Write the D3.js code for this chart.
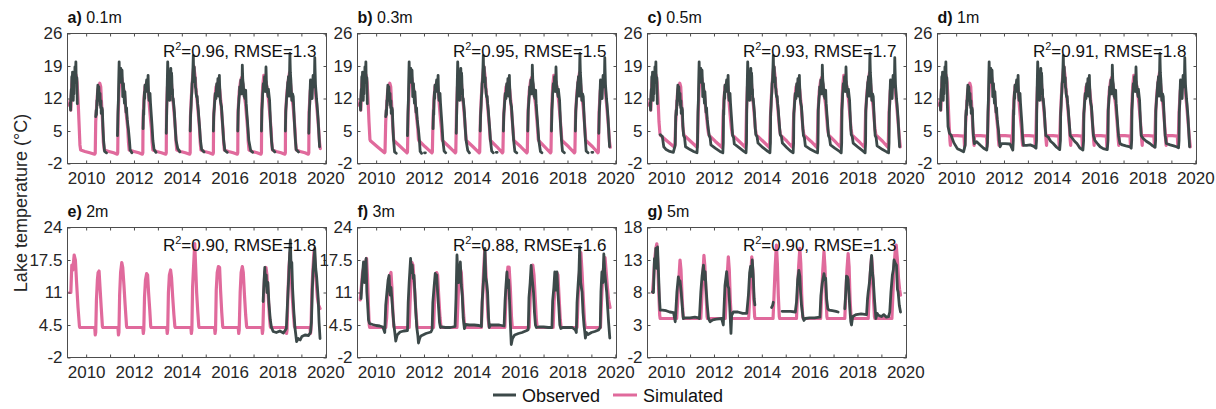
<!DOCTYPE html>
<html>
<head>
<meta charset="utf-8">
<script src="https://cdn.jsdelivr.net/npm/d3@7"></script>
<style>
  body { margin: 0; background: #fff; }
  svg text { font-family: "Liberation Sans", Arial, Helvetica, sans-serif; }
</style>
</head>
<body>
<svg id="chart" width="1216" height="409"></svg>
<script>
// ---- Observed open-water season, near-surface loggers (0.1–1 m), decimal year / °C ----
const obsCore = [
  [[2009.33,11.0],[2009.35,9.5],[2009.36,12.5],[2009.38,14.0],[2009.39,12.0],[2009.40,16.7],[2009.42,15.0],[2009.43,17.7],[2009.45,13.5],[2009.46,11.6],[2009.48,14.5],[2009.49,13.0],[2009.50,17.0],[2009.52,15.5],[2009.53,18.8],[2009.55,16.0],[2009.57,19.9],[2009.58,17.0],[2009.60,15.2],[2009.61,16.5],[2009.63,10.9]],
  [[2010.40,8.1],[2010.42,9.5],[2010.43,8.5],[2010.45,11.6],[2010.46,10.5],[2010.47,13.0],[2010.49,14.9],[2010.50,13.0],[2010.51,12.5],[2010.53,14.5],[2010.55,12.5],[2010.56,11.6],[2010.58,13.1],[2010.59,11.0],[2010.61,10.0],[2010.62,11.5],[2010.63,8.8],[2010.65,9.0],[2010.66,10.0],[2010.68,9.5],[2010.70,6.0]],
  [[2011.33,9.0],[2011.35,12.0],[2011.36,15.5],[2011.38,19.9],[2011.39,17.5],[2011.40,16.0],[2011.42,17.0],[2011.43,15.5],[2011.45,18.5],[2011.47,16.5],[2011.48,17.5],[2011.50,18.1],[2011.52,15.0],[2011.53,12.4],[2011.55,14.0],[2011.56,15.2],[2011.58,13.0],[2011.60,11.0],[2011.62,13.5],[2011.63,12.4],[2011.65,10.5],[2011.67,9.0],[2011.69,10.0],[2011.70,8.8],[2011.72,7.5],[2011.74,6.5],[2011.77,5.2]],
  [[2012.40,9.5],[2012.41,8.5],[2012.42,11.6],[2012.44,13.5],[2012.45,12.0],[2012.46,14.9],[2012.48,14.0],[2012.50,13.5],[2012.51,15.0],[2012.53,16.0],[2012.55,14.0],[2012.56,15.0],[2012.58,15.5],[2012.59,17.0],[2012.61,13.0],[2012.63,11.6],[2012.65,12.5],[2012.67,13.1],[2012.69,11.0],[2012.71,9.5],[2012.73,8.0],[2012.75,6.5]],
  [[2013.37,9.5],[2013.38,12.0],[2013.39,15.0],[2013.41,19.9],[2013.42,18.0],[2013.43,16.0],[2013.44,17.0],[2013.45,14.5],[2013.47,13.0],[2013.49,11.6],[2013.50,13.5],[2013.52,15.0],[2013.54,18.5],[2013.55,16.5],[2013.57,17.5],[2013.58,16.7],[2013.60,13.0],[2013.61,14.0],[2013.62,11.6],[2013.64,12.0],[2013.67,10.2],[2013.69,9.0],[2013.72,6.0]],
  [[2014.37,8.8],[2014.39,10.5],[2014.40,12.0],[2014.42,13.5],[2014.43,15.2],[2014.45,16.0],[2014.46,17.5],[2014.48,21.3],[2014.49,19.0],[2014.50,17.0],[2014.52,18.8],[2014.53,16.5],[2014.55,15.5],[2014.56,16.5],[2014.57,14.5],[2014.59,14.0],[2014.60,13.0],[2014.62,12.4],[2014.64,12.5],[2014.66,11.0],[2014.69,9.5],[2014.71,8.0],[2014.74,6.0]],
  [[2015.34,8.8],[2015.36,10.0],[2015.37,11.0],[2015.39,12.5],[2015.40,13.1],[2015.42,12.5],[2015.43,12.0],[2015.45,14.5],[2015.46,15.2],[2015.48,14.5],[2015.49,14.0],[2015.51,16.3],[2015.52,14.5],[2015.54,12.5],[2015.55,14.0],[2015.57,17.0],[2015.58,15.0],[2015.59,14.0],[2015.61,11.6],[2015.63,11.0],[2015.66,10.2],[2015.68,8.5],[2015.71,6.0]],
  [[2016.36,9.5],[2016.38,11.0],[2016.39,12.0],[2016.41,13.0],[2016.42,14.5],[2016.44,14.0],[2016.45,13.0],[2016.47,16.0],[2016.49,14.5],[2016.50,13.0],[2016.52,15.5],[2016.53,19.2],[2016.54,17.5],[2016.55,16.0],[2016.57,15.2],[2016.59,13.5],[2016.61,12.4],[2016.63,13.0],[2016.64,12.0],[2016.67,13.8],[2016.69,11.0],[2016.72,8.8],[2016.74,7.5],[2016.76,6.0]],
  [[2017.35,9.5],[2017.37,11.5],[2017.38,13.0],[2017.40,14.0],[2017.41,15.2],[2017.43,14.5],[2017.44,14.0],[2017.46,16.7],[2017.48,15.0],[2017.49,13.5],[2017.51,16.0],[2017.52,18.8],[2017.53,17.0],[2017.54,15.0],[2017.56,14.5],[2017.58,13.5],[2017.61,12.4],[2017.62,14.0],[2017.64,13.0],[2017.67,11.6],[2017.69,9.0],[2017.71,6.5]],
  [[2018.35,9.5],[2018.37,11.0],[2018.38,12.0],[2018.40,13.0],[2018.41,13.8],[2018.43,15.5],[2018.44,15.0],[2018.46,16.7],[2018.48,14.0],[2018.49,12.5],[2018.50,16.0],[2018.52,21.7],[2018.53,19.5],[2018.54,17.5],[2018.56,16.0],[2018.58,13.5],[2018.60,11.6],[2018.62,12.5],[2018.63,13.0],[2018.66,12.4],[2018.68,10.0],[2018.71,6.5]],
  [[2019.33,9.0],[2019.35,11.0],[2019.36,13.0],[2019.38,16.0],[2019.40,15.0],[2019.42,15.5],[2019.44,13.5],[2019.45,12.0],[2019.47,15.0],[2019.49,17.0],[2019.51,15.5],[2019.53,14.5],[2019.55,17.5],[2019.56,20.8],[2019.57,18.5],[2019.59,15.0],[2019.61,13.5],[2019.63,12.0],[2019.65,11.0],[2019.68,9.0],[2019.70,7.5],[2019.72,5.5]]
];

// ---- Simulated open-water season, upper 1 m ----
const simCore = [
  [[2009.30,10.5],[2009.33,11.5],[2009.36,9.5],[2009.40,15.0],[2009.44,17.0],[2009.48,15.5],[2009.53,17.5],[2009.58,17.0],[2009.62,15.5],[2009.66,12.0],[2009.70,7.0]],
  [[2010.40,7.0],[2010.44,10.5],[2010.48,13.5],[2010.52,14.5],[2010.57,15.3],[2010.61,14.5],[2010.65,10.5],[2010.69,6.5]],
  [[2011.34,8.5],[2011.37,13.0],[2011.41,16.5],[2011.45,17.5],[2011.50,16.0],[2011.55,14.5],[2011.60,13.0],[2011.65,10.0],[2011.70,7.5],[2011.74,5.5]],
  [[2012.38,8.0],[2012.42,12.0],[2012.46,14.5],[2012.50,15.0],[2012.55,15.5],[2012.60,13.5],[2012.65,10.0],[2012.70,7.0],[2012.73,5.5]],
  [[2013.36,9.5],[2013.40,14.5],[2013.45,16.0],[2013.50,15.0],[2013.55,16.5],[2013.60,13.0],[2013.65,10.5],[2013.70,7.5],[2013.73,5.5]],
  [[2014.36,8.0],[2014.40,12.5],[2014.45,16.5],[2014.50,19.0],[2014.55,17.0],[2014.60,13.5],[2014.65,11.0],[2014.70,8.0],[2014.74,5.5]],
  [[2015.33,8.0],[2015.38,12.0],[2015.43,14.5],[2015.48,15.0],[2015.53,15.5],[2015.58,14.0],[2015.63,11.5],[2015.68,8.0],[2015.72,5.5]],
  [[2016.35,9.0],[2016.40,13.5],[2016.45,15.5],[2016.50,16.5],[2016.55,15.0],[2016.60,13.0],[2016.66,11.0],[2016.71,8.0],[2016.75,5.5]],
  [[2017.34,9.5],[2017.38,14.5],[2017.43,17.0],[2017.48,16.0],[2017.53,15.5],[2017.58,13.5],[2017.64,11.0],[2017.69,8.0],[2017.73,5.5]],
  [[2018.34,9.0],[2018.39,13.0],[2018.44,15.5],[2018.50,17.5],[2018.55,15.0],[2018.60,12.5],[2018.65,10.5],[2018.70,7.5],[2018.73,5.5]],
  [[2019.32,9.0],[2019.37,13.5],[2019.42,15.5],[2019.48,16.0],[2019.53,15.5],[2019.58,14.0],[2019.63,11.0],[2019.68,8.0],[2019.72,5.5]]
];

// ---- Cold-season pieces for each upper depth (null = no record) ----
const simWinter01 = [
  [[2009.74,2.0],[2009.77,0.9],[2009.95,0.6],[2010.15,0.3],[2010.35,0.0],[2010.38,0.2]],
  [[2010.72,2.5],[2010.76,0.9],[2010.95,0.6],[2011.15,0.3],[2011.30,0.0],[2011.32,0.3]],
  [[2011.77,2.5],[2011.80,0.9],[2012.00,0.6],[2012.20,0.3],[2012.35,0.0],[2012.37,0.3]],
  [[2012.76,2.5],[2012.79,0.9],[2012.95,0.6],[2013.15,0.3],[2013.33,0.0],[2013.35,0.3]],
  [[2013.76,2.5],[2013.79,0.9],[2013.95,0.6],[2014.15,0.3],[2014.33,0.0],[2014.35,0.3]],
  [[2014.77,2.5],[2014.80,0.9],[2014.95,0.6],[2015.15,0.3],[2015.30,0.0],[2015.32,0.3]],
  [[2015.75,2.5],[2015.78,0.9],[2015.95,0.6],[2016.15,0.3],[2016.32,0.0],[2016.34,0.3]],
  [[2016.78,2.5],[2016.81,0.9],[2016.95,0.6],[2017.15,0.3],[2017.31,0.0],[2017.33,0.3]],
  [[2017.76,2.5],[2017.79,0.9],[2017.95,0.6],[2018.15,0.3],[2018.31,0.0],[2018.33,0.3]],
  [[2018.76,2.5],[2018.79,0.9],[2018.95,0.6],[2019.15,0.3],[2019.29,0.0],[2019.31,0.3]],
  [[2019.76,2.5],[2019.79,1.2]]
];
const obsWinter01 = [
  [null],
  [[2010.73,3.0],[2010.77,0.6],[2010.85,0.3],null,[2011.31,4.0]],
  [[2011.81,3.0],[2011.84,0.9],[2011.91,0.3],null,[2012.38,5.5]],
  [[2012.79,3.0],[2012.84,1.0],[2012.92,0.4],null,[2013.35,4.5]],
  [[2013.76,3.0],[2013.83,1.2],[2013.92,0.5],null,[2014.35,5.0]],
  [[2014.78,3.0],[2014.83,1.0],[2014.93,0.5],null,[2015.32,5.0]],
  [[2015.75,3.0],[2015.80,0.8],[2015.90,0.4],null,[2016.34,5.0]],
  [[2016.80,3.0],[2016.88,0.8],[2016.96,0.4],null,[2017.33,5.0]],
  [[2017.75,3.0],[2017.79,1.0],[2017.89,0.5],null,[2018.33,5.0]],
  [[2018.75,3.0],[2018.78,1.0],[2018.88,0.5],null,[2019.31,4.5]],
  [[2019.76,1.6]]
];

const simWinter03 = [
  [[2009.74,3.2],[2009.76,2.9],[2010.05,1.6],[2010.35,0.3],[2010.37,0.5]],
  [[2010.73,3.2],[2010.75,2.9],[2011.02,1.6],[2011.29,0.3],[2011.31,0.5]],
  [[2011.77,3.2],[2011.79,2.9],[2012.05,1.6],[2012.33,0.3],[2012.35,0.5]],
  [[2012.76,3.2],[2012.78,2.9],[2013.05,1.6],[2013.31,0.3],[2013.33,0.5]],
  [[2013.76,3.2],[2013.78,2.9],[2014.05,1.6],[2014.31,0.3],[2014.33,0.5]],
  [[2014.77,3.2],[2014.79,2.9],[2015.05,1.6],[2015.28,0.3],[2015.30,0.5]],
  [[2015.75,3.2],[2015.77,2.9],[2016.05,1.6],[2016.30,0.3],[2016.32,0.5]],
  [[2016.78,3.2],[2016.80,2.9],[2017.05,1.6],[2017.29,0.3],[2017.31,0.5]],
  [[2017.76,3.2],[2017.78,2.9],[2018.05,1.6],[2018.29,0.3],[2018.31,0.5]],
  [[2018.76,3.2],[2018.78,2.9],[2019.05,1.6],[2019.27,0.3],[2019.29,0.5]],
  [[2019.76,2.5],[2019.79,1.5]]
];
const obsWinter03 = [
  [null],
  [[2010.73,3.0],[2010.77,0.5],[2010.84,0.2],null,[2011.31,4.0]],
  [[2011.81,3.0],[2011.84,0.6],[2011.90,0.2],null,[2012.02,0.3],[2012.06,0.3],null,[2012.38,5.5]],
  [[2012.79,3.0],[2012.84,0.7],[2012.91,0.3],null,[2013.35,4.5]],
  [[2013.76,3.0],[2013.83,0.8],[2013.90,0.3],null,[2014.35,5.0]],
  [[2014.78,3.0],[2014.83,0.7],[2014.90,0.3],null,[2015.02,0.4],[2015.06,0.4],null,[2015.32,5.0]],
  [[2015.75,3.0],[2015.80,0.6],[2015.88,0.3],null,[2016.34,5.0]],
  [[2016.80,3.0],[2016.87,0.6],[2016.93,0.3],null,[2017.33,5.0]],
  [[2017.75,3.0],[2017.79,0.7],[2017.87,0.3],null,[2018.33,5.0]],
  [[2018.75,3.0],[2018.78,0.7],[2018.86,0.3],null,[2019.02,0.4],[2019.06,0.4],null,[2019.31,4.5]],
  [[2019.76,1.6]]
];

const simWinter05 = [
  [[2009.74,4.5],[2009.76,4.1],[2010.05,2.8],[2010.35,1.5],[2010.37,2.5]],
  [[2010.73,4.5],[2010.75,4.1],[2011.02,2.8],[2011.29,1.5],[2011.31,2.5]],
  [[2011.77,4.5],[2011.79,4.1],[2012.05,2.8],[2012.33,1.5],[2012.35,2.5]],
  [[2012.76,4.5],[2012.78,4.1],[2013.05,2.8],[2013.31,1.5],[2013.33,2.5]],
  [[2013.76,4.5],[2013.78,4.1],[2014.05,2.8],[2014.31,1.5],[2014.33,2.5]],
  [[2014.77,4.5],[2014.79,4.1],[2015.05,2.8],[2015.28,1.5],[2015.30,2.5]],
  [[2015.75,4.5],[2015.77,4.1],[2016.05,2.8],[2016.30,1.5],[2016.32,2.5]],
  [[2016.78,4.5],[2016.80,4.1],[2017.05,2.8],[2017.29,1.5],[2017.31,2.5]],
  [[2017.76,4.5],[2017.78,4.1],[2018.05,2.8],[2018.29,1.5],[2018.31,2.5]],
  [[2018.76,4.5],[2018.78,4.1],[2019.05,2.8],[2019.27,1.5],[2019.29,2.5]],
  [[2019.76,3.0],[2019.79,1.6]]
];
const obsWinter05 = [
  [null,[2009.75,4.2],[2009.80,4.0],[2009.84,3.8],[2009.90,1.6],[2010.00,1.0],[2010.15,0.6],[2010.30,0.4],[2010.38,2.0]],
  [[2010.73,4.0],[2010.77,3.6],[2010.81,1.6],[2011.00,1.0],[2011.15,0.6],[2011.29,0.3],[2011.31,2.0]],
  [[2011.80,4.0],[2011.84,3.5],[2011.87,2.0],[2012.05,1.3],[2012.25,0.6],[2012.37,0.3],[2012.39,2.5]],
  [[2012.78,4.0],[2012.82,3.6],[2012.85,2.2],[2013.05,1.4],[2013.25,0.6],[2013.34,0.3],[2013.36,2.5]],
  [[2013.75,4.2],[2013.80,3.8],[2013.84,2.4],[2014.05,1.4],[2014.25,0.6],[2014.34,0.3],[2014.36,2.5]],
  [[2014.77,4.2],[2014.82,3.8],[2014.86,2.4],[2015.05,1.4],[2015.22,0.6],[2015.31,0.3],[2015.33,2.5]],
  [[2015.74,4.0],[2015.78,3.6],[2015.82,1.8],[2016.05,1.0],[2016.25,0.5],[2016.33,0.3],[2016.35,2.5]],
  [[2016.79,4.0],[2016.83,3.5],[2016.87,2.0],[2017.05,1.3],[2017.25,0.6],[2017.32,0.3],[2017.34,2.5]],
  [[2017.74,4.2],[2017.78,3.8],[2017.82,2.4],[2018.05,1.4],[2018.25,0.6],[2018.32,0.3],[2018.34,2.5]],
  [[2018.74,4.0],[2018.78,3.6],[2018.82,1.8],[2019.05,1.0],[2019.22,0.5],[2019.30,0.3],[2019.32,2.5]],
  [[2019.76,1.6]]
];

const simWinter1 = [
  [[2009.74,3.0],[2009.76,1.9],[2009.78,4.0],[2010.05,4.0],[2010.33,3.9],[2010.35,1.6],[2010.37,3.5]],
  [[2010.73,3.0],[2010.75,1.9],[2010.77,4.0],[2011.02,4.0],[2011.27,3.9],[2011.29,1.6],[2011.31,3.5]],
  [[2011.77,3.0],[2011.79,1.9],[2011.81,4.0],[2012.05,4.0],[2012.31,3.9],[2012.33,1.6],[2012.35,3.5]],
  [[2012.76,3.0],[2012.78,1.9],[2012.80,4.0],[2013.05,4.0],[2013.29,3.9],[2013.31,1.6],[2013.33,3.5]],
  [[2013.76,3.0],[2013.78,1.9],[2013.80,4.0],[2014.05,4.0],[2014.29,3.9],[2014.31,1.6],[2014.33,3.5]],
  [[2014.77,3.0],[2014.79,1.9],[2014.81,4.0],[2015.05,4.0],[2015.26,3.9],[2015.28,1.6],[2015.30,3.5]],
  [[2015.75,3.0],[2015.77,1.9],[2015.79,4.0],[2016.05,4.0],[2016.28,3.9],[2016.30,1.6],[2016.32,3.5]],
  [[2016.78,3.0],[2016.80,1.9],[2016.82,4.0],[2017.05,4.0],[2017.27,3.9],[2017.29,1.6],[2017.31,3.5]],
  [[2017.76,3.0],[2017.78,1.9],[2017.80,4.0],[2018.05,4.0],[2018.27,3.9],[2018.29,1.6],[2018.31,3.5]],
  [[2018.76,3.0],[2018.78,1.9],[2018.80,4.0],[2019.05,4.0],[2019.25,3.9],[2019.27,1.6],[2019.29,3.5]],
  [[2019.76,3.0],[2019.79,1.6]]
];
const obsWinter1 = [
  [[2009.66,6.0],[2009.72,4.5],[2009.79,4.1],[2009.90,2.5],[2010.05,1.2],[2010.17,0.9],[2010.31,0.5],[2010.38,2.0]],
  [[2010.72,4.0],[2010.76,2.3],[2010.86,2.7],[2011.00,2.0],[2011.15,1.3],[2011.28,0.9],[2011.31,2.5]],
  [[2011.80,3.0],[2011.84,1.6],[2011.90,2.3],[2012.05,2.3],[2012.25,2.2],[2012.37,0.9],[2012.39,3.0]],
  [[2012.78,3.5],[2012.82,1.9],[2012.95,1.9],[2013.10,2.0],[2013.25,1.7],[2013.34,1.3],[2013.36,3.0]],
  [[2013.75,4.0],[2013.85,3.7],[2013.95,2.8],[2014.06,2.3],[2014.20,1.5],[2014.33,1.0],[2014.36,3.0]],
  [[2014.77,4.0],[2014.82,3.7],[2014.95,2.8],[2015.05,2.3],[2015.18,1.3],[2015.30,0.9],[2015.33,3.0]],
  [[2015.74,4.0],[2015.80,3.0],[2015.92,2.2],[2016.02,1.6],[2016.15,1.2],[2016.32,1.0],[2016.35,3.0]],
  [[2016.79,4.0],[2016.85,2.3],[2016.95,2.0],[2017.10,1.8],[2017.27,1.6],[2017.32,1.3],[2017.34,3.0]],
  [[2017.74,4.0],[2017.82,3.4],[2017.95,2.8],[2018.10,2.3],[2018.22,1.8],[2018.32,1.5],[2018.34,3.0]],
  [[2018.74,4.0],[2018.79,2.3],[2018.95,2.0],[2019.10,1.8],[2019.21,1.6],[2019.30,1.4],[2019.32,3.0]],
  [[2019.76,1.6]]
];

// ---- 2 m ----
const sim2m = [
  [2009.31,11.0],[2009.36,11.0],[2009.40,16.5],[2009.44,15.5],[2009.50,18.5],[2009.55,17.5],[2009.60,13.0],[2009.66,8.0],[2009.72,4.2],[2009.74,4.0],
  [2010.00,4.0],[2010.36,4.0],[2010.38,2.5],[2010.40,3.0],
  [2010.43,9.5],[2010.47,13.5],[2010.50,15.0],[2010.54,15.3],[2010.58,12.0],[2010.63,8.0],[2010.68,4.2],[2010.70,4.0],
  [2011.33,4.0],[2011.35,2.5],[2011.37,3.0],
  [2011.40,10.5],[2011.44,15.0],[2011.49,17.0],[2011.53,16.0],[2011.58,12.5],[2011.63,8.5],[2011.69,4.2],[2011.71,4.0],
  [2012.37,4.0],[2012.39,2.8],[2012.41,3.5],
  [2012.44,10.0],[2012.48,13.5],[2012.53,14.8],[2012.57,14.5],[2012.61,11.0],[2012.66,7.5],[2012.70,4.2],[2012.72,4.0],
  [2013.37,4.0],[2013.39,2.8],[2013.41,3.5],
  [2013.44,11.0],[2013.48,14.5],[2013.53,15.5],[2013.57,14.0],[2013.62,10.0],[2013.67,6.5],[2013.71,4.2],[2013.73,4.0],
  [2014.38,4.0],[2014.40,2.8],[2014.42,3.5],
  [2014.45,12.0],[2014.50,17.0],[2014.54,20.8],[2014.58,16.0],[2014.62,11.0],[2014.67,7.0],[2014.71,4.2],[2014.73,4.0],
  [2015.37,4.0],[2015.39,2.8],[2015.41,3.5],
  [2015.44,11.5],[2015.48,15.0],[2015.53,16.2],[2015.58,16.0],[2015.62,11.5],[2015.67,7.0],[2015.71,4.2],[2015.73,4.0],
  [2016.36,4.0],[2016.38,2.8],[2016.40,3.5],
  [2016.44,11.0],[2016.48,15.0],[2016.53,16.2],[2016.57,15.0],[2016.62,10.5],[2016.67,6.5],[2016.71,4.2],[2016.73,4.0],
  [2017.35,4.0],[2017.37,2.8],[2017.39,3.5],
  [2017.43,11.0],[2017.47,15.0],[2017.52,16.0],[2017.56,14.5],[2017.61,10.5],[2017.66,6.5],[2017.70,4.2],[2017.72,4.0],
  [2018.36,4.0],[2018.38,2.8],[2018.40,3.5],
  [2018.44,11.0],[2018.48,16.0],[2018.53,19.0],[2018.57,15.0],[2018.62,10.0],[2018.67,6.5],[2018.71,4.2],[2018.73,4.0],
  [2019.36,4.0],[2019.38,2.8],[2019.40,3.5],
  [2019.44,11.5],[2019.48,15.5],[2019.53,19.5],[2019.57,16.5],[2019.62,13.0],[2019.67,10.0],[2019.72,8.5],[2019.78,7.8]
];
const obs2m = [
  [2017.40,9.2],[2017.44,13.5],[2017.47,16.0],[2017.50,12.5],[2017.53,14.5],[2017.56,11.0],[2017.60,13.0],[2017.64,9.0],[2017.70,5.5],[2017.75,4.0],
  [2017.82,3.2],[2017.95,3.0],[2018.10,3.3],[2018.25,2.9],[2018.37,3.8],
  [2018.42,9.0],[2018.47,14.0],[2018.51,19.0],[2018.54,21.5],[2018.57,16.0],[2018.60,17.0],[2018.63,12.0],[2018.68,7.5],[2018.73,4.0],
  [2018.80,1.2],[2018.87,1.8],[2018.95,1.5],[2019.02,2.2],[2019.15,2.5],[2019.30,2.4],[2019.38,3.0],
  [2019.42,5.0],[2019.46,12.0],[2019.49,15.2],[2019.53,18.0],[2019.56,19.8],[2019.60,15.8],[2019.64,14.0],[2019.70,10.0],[2019.74,5.0],[2019.78,1.8]
];

// ---- 3 m ----
const sim3m = [
  [2009.33,9.5],[2009.38,12.0],[2009.43,15.0],[2009.48,16.0],[2009.54,17.0],[2009.60,17.8],[2009.64,14.0],[2009.68,8.0],[2009.71,4.5],[2009.73,4.0],
  [2010.00,4.0],[2010.40,4.0],
  [2010.44,6.0],[2010.48,10.0],[2010.53,13.5],[2010.58,14.5],[2010.62,15.0],[2010.66,12.0],[2010.70,7.0],[2010.74,4.2],[2010.76,4.0],
  [2011.38,4.0],
  [2011.41,8.0],[2011.45,13.0],[2011.50,17.0],[2011.54,16.5],[2011.59,13.0],[2011.65,8.0],[2011.71,4.2],[2011.73,4.0],
  [2012.40,4.0],
  [2012.44,9.0],[2012.48,13.0],[2012.53,15.0],[2012.57,14.5],[2012.62,10.0],[2012.67,6.0],[2012.71,4.2],[2012.73,4.0],
  [2013.38,4.0],
  [2013.42,9.0],[2013.46,14.0],[2013.51,16.0],[2013.56,15.0],[2013.61,10.5],[2013.66,6.5],[2013.70,4.2],[2013.72,4.0],
  [2014.40,4.0],
  [2014.44,9.0],[2014.49,15.0],[2014.54,19.5],[2014.58,16.0],[2014.63,11.0],[2014.68,6.0],[2014.72,4.2],[2014.74,4.0],
  [2015.38,4.0],
  [2015.42,9.0],[2015.47,14.0],[2015.51,16.1],[2015.56,16.1],[2015.61,12.0],[2015.66,6.0],[2015.69,4.2],[2015.71,4.0],
  [2016.40,4.0],
  [2016.44,9.5],[2016.49,14.0],[2016.55,16.5],[2016.60,14.5],[2016.65,10.0],[2016.70,5.5],[2016.73,4.2],[2016.75,4.0],
  [2017.40,4.0],
  [2017.44,9.0],[2017.49,13.0],[2017.55,15.0],[2017.60,14.5],[2017.65,10.0],[2017.70,5.5],[2017.73,4.2],[2017.75,4.0],
  [2018.40,4.0],
  [2018.44,9.5],[2018.50,15.0],[2018.56,19.0],[2018.61,15.0],[2018.66,10.0],[2018.71,5.5],[2018.74,4.2],[2018.76,4.0],
  [2019.38,4.0],
  [2019.42,9.0],[2019.47,14.0],[2019.52,16.5],[2019.57,18.0],[2019.62,15.0],[2019.67,12.0],[2019.72,9.5],[2019.78,8.0]
];
const obs3m = [
  [2009.37,9.8],[2009.40,12.5],[2009.43,14.4],[2009.47,17.1],[2009.51,13.0],[2009.55,15.5],[2009.58,17.8],[2009.61,11.1],[2009.64,9.0],[2009.68,5.5],[2009.72,4.8],
  [2009.85,4.6],[2010.00,4.4],[2010.15,4.3],[2010.28,4.1],[2010.36,3.0],
  [2010.40,8.4],[2010.45,11.0],[2010.50,13.5],[2010.54,14.4],[2010.58,10.5],[2010.62,12.0],[2010.66,9.5],[2010.70,7.0],[2010.74,4.5],[2010.78,3.0],[2010.82,1.3],
  [2010.88,2.5],[2011.00,3.1],[2011.15,3.3],[2011.31,3.4],
  [2011.34,9.0],[2011.38,13.0],[2011.44,17.8],[2011.48,15.0],[2011.51,16.5],[2011.55,13.8],[2011.58,14.5],[2011.62,11.0],[2011.66,7.0],[2011.70,4.0],[2011.74,2.5],[2011.77,0.9],
  [2011.82,1.8],[2011.87,2.3],[2012.08,2.8],[2012.29,3.1],[2012.34,3.6],
  [2012.37,9.0],[2012.42,12.0],[2012.47,14.8],[2012.50,13.0],[2012.53,14.5],[2012.57,11.0],[2012.61,8.0],[2012.65,5.0],[2012.69,4.0],
  [2012.75,4.1],[2012.90,4.0],[2013.10,4.0],[2013.30,4.2],
  [2013.34,10.0],[2013.38,18.5],[2013.42,14.0],[2013.45,13.0],[2013.49,15.0],[2013.52,17.1],[2013.56,12.5],[2013.60,10.5],[2013.64,6.0],[2013.69,3.8],
  [2013.74,4.6],[2013.90,4.5],[2014.10,4.5],[2014.30,4.4],[2014.40,4.2],
  [2014.43,9.0],[2014.47,12.0],[2014.51,15.0],[2014.55,19.8],[2014.58,14.0],[2014.62,13.0],[2014.66,11.0],[2014.70,6.0],[2014.73,4.0],
  [2014.78,4.5],[2014.95,4.5],[2015.15,4.5],[2015.35,4.3],
  [2015.39,9.3],[2015.43,12.5],[2015.47,15.1],[2015.50,12.0],[2015.54,13.5],[2015.58,9.0],[2015.61,5.0],[2015.65,0.6],
  [2015.70,1.8],[2015.79,2.5],[2015.95,2.8],[2016.10,3.0],[2016.30,3.4],[2016.36,3.6],
  [2016.39,10.0],[2016.44,13.0],[2016.48,16.4],[2016.51,14.4],[2016.55,12.5],[2016.58,11.0],[2016.62,7.0],[2016.66,4.5],[2016.70,4.0],
  [2016.80,4.1],[2017.00,4.1],[2017.20,4.0],[2017.35,4.0],
  [2017.38,9.3],[2017.43,12.0],[2017.47,15.1],[2017.51,11.5],[2017.56,15.1],[2017.60,11.0],[2017.64,8.0],[2017.68,4.5],[2017.72,3.8],
  [2017.80,4.0],[2018.00,4.0],[2018.20,4.0],[2018.33,3.5],[2018.37,3.0],
  [2018.40,9.0],[2018.45,13.0],[2018.48,15.0],[2018.51,20.1],[2018.55,13.0],[2018.58,12.0],[2018.61,11.1],[2018.65,7.0],[2018.69,4.5],[2018.72,3.3],[2018.75,1.9],
  [2018.80,3.0],[2018.86,2.6],[2019.00,3.0],[2019.14,3.2],[2019.30,3.5],[2019.37,4.0],
  [2019.40,11.1],[2019.44,15.1],[2019.48,13.0],[2019.52,18.7],[2019.56,15.0],[2019.60,13.0],[2019.64,11.1],[2019.68,8.0],[2019.72,5.0],[2019.77,1.9]
];

// ---- 5 m ----
const sim5m = [
  [2009.43,8.0],[2009.47,10.0],[2009.52,13.0],[2009.57,14.8],[2009.61,15.5],[2009.65,12.5],[2009.69,8.0],[2009.73,4.5],[2009.75,4.0],
  [2010.00,4.0],[2010.44,4.0],
  [2010.48,6.5],[2010.53,10.0],[2010.58,13.0],[2010.62,11.5],[2010.67,7.0],[2010.71,4.3],[2010.73,4.0],
  [2011.45,4.0],
  [2011.49,7.0],[2011.54,11.0],[2011.58,13.7],[2011.62,12.0],[2011.67,7.5],[2011.71,4.3],[2011.73,4.0],
  [2012.47,4.0],
  [2012.51,7.0],[2012.56,11.0],[2012.60,13.5],[2012.64,11.5],[2012.68,7.0],[2012.72,4.3],[2012.74,4.0],
  [2013.45,4.0],
  [2013.49,7.0],[2013.54,11.0],[2013.58,13.5],[2013.62,11.5],[2013.66,7.0],[2013.70,4.3],[2013.72,4.0],
  [2014.47,4.0],
  [2014.51,7.5],[2014.56,12.0],[2014.61,15.3],[2014.65,12.5],[2014.69,7.5],[2014.73,4.3],[2014.75,4.0],
  [2015.45,4.0],
  [2015.49,7.5],[2015.54,12.0],[2015.59,14.8],[2015.63,12.5],[2015.67,7.5],[2015.71,4.3],[2015.73,4.0],
  [2016.46,4.0],
  [2016.50,7.5],[2016.55,11.5],[2016.60,14.3],[2016.64,12.0],[2016.68,7.5],[2016.72,4.3],[2016.74,4.0],
  [2017.47,4.0],
  [2017.51,7.5],[2017.56,11.5],[2017.61,14.0],[2017.65,12.0],[2017.69,7.0],[2017.73,4.3],[2017.75,4.0],
  [2018.45,4.0],
  [2018.49,7.5],[2018.54,11.0],[2018.59,13.5],[2018.63,11.5],[2018.67,7.0],[2018.71,4.3],[2018.73,4.0],
  [2019.44,4.0],
  [2019.48,7.5],[2019.53,12.0],[2019.58,14.5],[2019.62,15.3],[2019.67,13.0],[2019.72,10.0],[2019.76,8.5],[2019.80,7.6]
];
const obs5m = [
  [2009.43,8.1],[2009.47,8.0],[2009.51,13.2],[2009.54,12.0],[2009.57,14.8],[2009.61,11.7],[2009.64,15.0],[2009.68,11.0],[2009.72,7.0],[2009.75,5.3],
  [2009.85,5.3],[2010.00,5.2],[2010.15,5.0],[2010.31,4.9],[2010.38,3.5],
  [2010.45,8.1],[2010.51,10.4],[2010.55,9.5],[2010.58,9.8],[2010.63,8.0],[2010.68,5.5],[2010.72,4.0],
  [2010.80,4.1],[2011.00,4.1],[2011.20,4.2],[2011.35,4.1],[2011.39,4.0],
  [2011.45,8.1],[2011.50,10.5],[2011.56,12.2],[2011.60,10.0],[2011.63,11.2],[2011.67,8.6],[2011.72,6.0],[2011.77,4.0],
  [2011.84,3.5],[2011.95,3.8],[2012.10,3.9],[2012.32,4.0],[2012.39,3.0],
  [2012.46,9.1],[2012.53,11.2],[2012.58,9.0],[2012.62,8.6],[2012.67,5.0],[2012.71,1.7],[2012.74,4.5],
  [2012.81,5.0],[2013.00,5.0],[2013.20,4.8],[2013.37,4.8],
  [2013.44,7.6],[2013.49,11.0],[2013.53,12.0],[2013.57,10.5],[2013.60,13.0],[2013.64,10.7],[2013.68,7.0],[2013.71,6.1],
  null,
  [2014.41,5.7],[2014.45,6.0],[2014.48,6.5],
  null,
  [2014.85,5.1],[2015.00,5.1],[2015.20,5.1],[2015.40,5.0],
  [2015.45,6.5],[2015.50,10.0],[2015.55,11.4],[2015.59,10.5],[2015.62,8.0],[2015.66,6.0],[2015.72,4.2],[2015.76,3.7],
  [2015.82,4.0],[2016.00,4.1],[2016.20,4.1],[2016.43,4.2],
  [2016.47,7.5],[2016.53,9.5],[2016.60,10.9],[2016.64,10.0],[2016.67,10.2],[2016.71,7.0],[2016.76,5.5],
  [2016.81,5.3],[2016.95,5.2],[2017.10,5.1],[2017.19,5.0],
  null,
  [2017.47,5.5],[2017.51,8.0],[2017.54,10.5],[2017.58,10.4],[2017.61,10.0],[2017.65,7.5],[2017.68,5.5],[2017.72,3.5],[2017.75,3.0],
  [2017.80,4.3],[2017.95,4.6],[2018.15,4.7],[2018.38,4.6],
  [2018.42,7.0],[2018.45,8.1],[2018.50,9.5],[2018.55,12.0],[2018.59,13.7],[2018.63,11.0],[2018.66,10.0],[2018.71,7.0],[2018.77,4.0],
  [2018.82,4.8],[2018.87,4.5],[2019.00,4.3],[2019.10,4.6],[2019.21,4.2],[2019.30,4.3],[2019.35,5.0],
  [2019.40,8.1],[2019.46,10.7],[2019.50,11.5],[2019.53,13.0],[2019.58,12.5],[2019.63,12.2],[2019.67,8.5],[2019.70,8.1],[2019.75,6.0],[2019.80,5.0]
];

// ---- Axis ticks and labels ----
const yearTicks = [2010, 2011, 2012, 2013, 2014, 2015, 2016, 2017, 2018, 2019, 2020];
const yTicksUpper = [-2, 5, 12, 19, 26];
const yTicksMid = [-2, 4.5, 11, 17.5, 24];
const yTicks5m = [-2, 3, 8, 13, 18];
const panelLetters = ["a)", "b)", "c)", "d)", "e)", "f)", "g)"];
const depthLabels = ["0.1m", "0.3m", "0.5m", "1m", "2m", "3m", "5m"];
const r2Values = ["0.96", "0.95", "0.93", "0.91", "0.90", "0.88", "0.90"];
const rmseValues = ["1.3", "1.5", "1.7", "1.8", "1.8", "1.6", "1.3"];
const legendLabels = ["Observed", "Simulated"];

// stitch warm-season pieces with each depth's cold-season pieces
function stitch(core, winter) {
  const out = [];
  core.forEach((seg, i) => {
    seg.forEach(p => out.push(p));
    if (winter[i]) winter[i].forEach(p => out.push(p));
  });
  return out;
}

const seriesSim = [
  stitch(simCore, simWinter01), stitch(simCore, simWinter03),
  stitch(simCore, simWinter05), stitch(simCore, simWinter1),
  sim2m, sim3m, sim5m
];
const seriesObs = [
  stitch(obsCore, obsWinter01), stitch(obsCore, obsWinter03),
  stitch(obsCore, obsWinter05), stitch(obsCore, obsWinter1),
  obs2m, obs3m, obs5m
];
const yTickSets = [yTicksUpper, yTicksUpper, yTicksUpper, yTicksUpper, yTicksMid, yTicksMid, yTicks5m];

const COL_OBS = "#3c4949";
const COL_SIM = "#e06a9c";
const TXT = "#262626";

const svg = d3.select("#chart");
const W = 259, H = 130;
const lefts = [67.5, 357.5, 647.5, 937.5];
const tops = [33.5, 227.5];

seriesSim.forEach((simData, i) => {
  const col = i % 4, row = Math.floor(i / 4);
  const x0 = lefts[col], y0 = tops[row];
  const yt = yTickSets[i];
  const x = d3.scaleLinear().domain([2009.22, 2020.05]).range([x0, x0 + W]);
  const y = d3.scaleLinear().domain([yt[0], yt[yt.length - 1]]).range([y0 + H, y0]);
  const g = svg.append("g");

  const clipId = "clip" + i;
  svg.append("clipPath").attr("id", clipId)
    .append("rect").attr("x", x0).attr("y", y0).attr("width", W).attr("height", H);

  const line = d3.line()
    .defined(d => d != null)
    .x(d => x(d[0])).y(d => y(d[1]));

  const plot = g.append("g").attr("clip-path", `url(#${clipId})`);
  plot.append("path").datum(simData)
    .attr("d", line).attr("fill", "none")
    .attr("stroke", COL_SIM).attr("stroke-width", 3.2)
    .attr("stroke-linejoin", "round").attr("stroke-linecap", "round");
  plot.append("path").datum(seriesObs[i])
    .attr("d", line).attr("fill", "none")
    .attr("stroke", COL_OBS).attr("stroke-width", 2.8)
    .attr("stroke-linejoin", "round").attr("stroke-linecap", "round");

  // box
  g.append("rect").attr("x", x0).attr("y", y0).attr("width", W).attr("height", H)
    .attr("fill", "none").attr("stroke", "#4d4d4d").attr("stroke-width", 1);

  // axes with inward ticks
  const axB = d3.axisBottom(x).tickValues(yearTicks).tickSize(-3)
    .tickFormat(d => d % 2 === 0 ? d3.format("d")(d) : "");
  const axT = d3.axisTop(x).tickValues(yearTicks).tickSize(-3).tickFormat("");
  const axL = d3.axisLeft(y).tickValues(yt).tickSize(-3).tickFormat(d => String(d));
  const axR = d3.axisRight(y).tickValues(yt).tickSize(-3).tickFormat("");

  const gb = g.append("g").attr("transform", `translate(0,${y0 + H})`).call(axB);
  const gt = g.append("g").attr("transform", `translate(0,${y0})`).call(axT);
  const gl = g.append("g").attr("transform", `translate(${x0},0)`).call(axL);
  const gr = g.append("g").attr("transform", `translate(${x0 + W},0)`).call(axR);
  [gb, gt, gl, gr].forEach(a => {
    a.select(".domain").remove();
    a.selectAll(".tick line").attr("stroke", "#4d4d4d");
  });
  gb.selectAll(".tick text").attr("y", 8).attr("dy", "0.71em")
    .attr("font-size", 17).attr("fill", TXT).attr("font-family", null);
  gl.selectAll(".tick text").attr("x", -5)
    .attr("font-size", 17).attr("fill", TXT).attr("font-family", null);

  // panel title
  const t = g.append("text").attr("x", x0).attr("y", y0 - 11)
    .attr("font-size", 16).attr("fill", "#111");
  t.append("tspan").attr("font-weight", "bold").text(panelLetters[i]);
  t.append("tspan").text(" " + depthLabels[i]);

  // fit statistics
  const s = g.append("text").attr("x", x0 + W - 10).attr("y", y0 + 23)
    .attr("text-anchor", "end").attr("font-size", 17).attr("fill", "#111");
  s.append("tspan").text("R");
  s.append("tspan").attr("font-size", 11).attr("dy", -7).text("2");
  s.append("tspan").attr("dy", 7).text("=" + r2Values[i] + ", RMSE=" + rmseValues[i]);
});

// y axis title
svg.append("text")
  .attr("transform", "translate(27,203) rotate(-90)")
  .attr("text-anchor", "middle").attr("font-size", 18).attr("fill", TXT)
  .text("Lake temperature (°C)");

// legend
const leg = svg.append("g");
[[493, 516, COL_OBS, 522], [613, 637, COL_SIM, 643]].forEach((d, i) => {
  leg.append("line").attr("x1", d[0]).attr("x2", d[1]).attr("y1", 395).attr("y2", 395)
    .attr("stroke", d[2]).attr("stroke-width", 3);
  leg.append("text").attr("x", d[3]).attr("y", 401.5).attr("font-size", 18)
    .attr("fill", "#111").text(legendLabels[i]);
});
</script>
</body>
</html>
